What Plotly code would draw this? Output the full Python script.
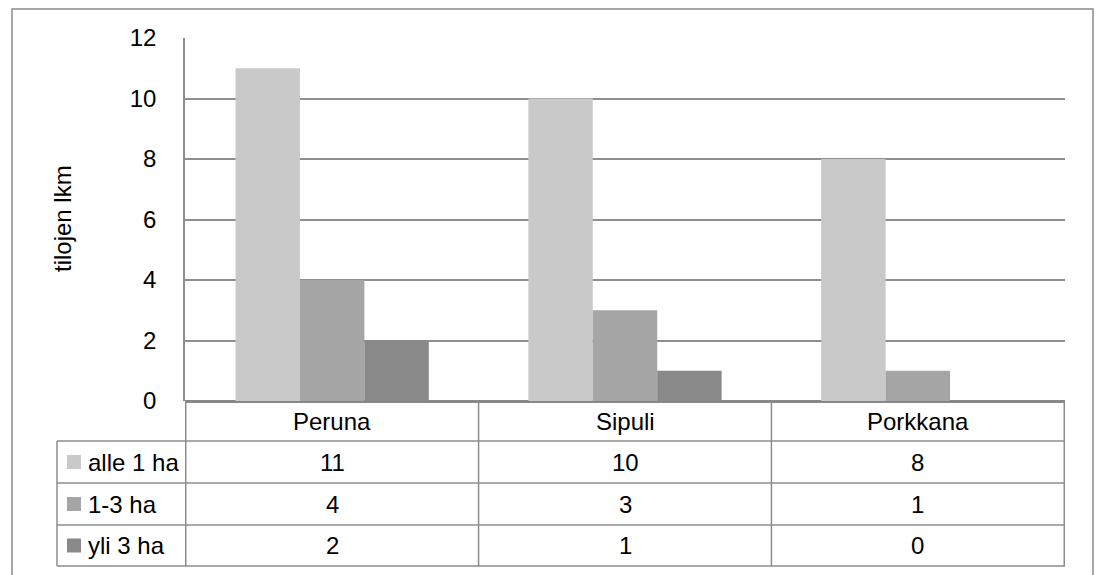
import plotly.graph_objects as go

# Data
categories = ["Peruna", "Sipuli", "Porkkana"]
series_names = ["alle 1 ha", "1-3 ha", "yli 3 ha"]
alle_1_ha = [11, 10, 8]
ha_1_3 = [4, 3, 1]
yli_3_ha = [2, 1, 0]
series_values = [alle_1_ha, ha_1_3, yli_3_ha]
y_ticks = [0, 2, 4, 6, 8, 10, 12]

colors = ["#C9C9C9", "#A5A5A5", "#898989"]

W, H = 1096, 575
FONT = "Arial, Liberation Sans, sans-serif"
FS = 24
LINE = "#8C8C8C"


def px(x):
    return x / W


def py(y):
    return 1 - y / H


# plot area in pixels
L, R, T, B = 185, 1065, 38, 401

fig = go.Figure()
for name, vals, c in zip(series_names, series_values, colors):
    fig.add_trace(go.Bar(x=categories, y=vals, name=name,
                         marker=dict(color=c, line=dict(width=0))))

shapes = []
annotations = []

# outer chart border
shapes.append(dict(type="rect", xref="paper", yref="paper",
                   x0=px(12), x1=px(1093), y0=py(590), y1=py(9),
                   line=dict(color="#8A8A8A", width=1.5), layer="below"))

# data table below the plot
header_bottom = 441
row_edges = [441, 483, 525, 566]
table_left = 57

# horizontal rules of the table
for y in row_edges:
    shapes.append(dict(type="line", xref="paper", yref="paper",
                       x0=px(table_left), x1=px(R), y0=py(y), y1=py(y),
                       line=dict(color=LINE, width=1.5)))
# left edge of series rows
shapes.append(dict(type="line", xref="paper", yref="paper",
                   x0=px(table_left), x1=px(table_left),
                   y0=py(row_edges[0]), y1=py(row_edges[-1]),
                   line=dict(color=LINE, width=1.5)))
# column separators aligned with category bands
for i in range(len(categories) + 1):
    shapes.append(dict(type="line", xref="x", yref="paper",
                       x0=i - 0.5, x1=i - 0.5, y0=py(B), y1=py(row_edges[-1]),
                       line=dict(color=LINE, width=1.5)))

# category header cells
for cat in categories:
    annotations.append(dict(x=cat, xref="x", y=py((B + header_bottom) / 2), yref="paper",
                            text=cat, showarrow=False, xanchor="center", yanchor="middle",
                            font=dict(family=FONT, size=FS, color="#000000")))

# series rows: legend key, label and values
for r, (name, vals, c) in enumerate(zip(series_names, series_values, colors)):
    top, bot = row_edges[r], row_edges[r + 1]
    mid = (top + bot) / 2
    shapes.append(dict(type="rect", xref="paper", yref="paper",
                       x0=px(67), x1=px(81), y0=py(mid + 7), y1=py(mid - 7),
                       fillcolor=c, line=dict(width=0)))
    annotations.append(dict(x=px(86), xref="paper", y=py(mid), yref="paper",
                            text=name, showarrow=False, xanchor="left", yanchor="middle",
                            font=dict(family=FONT, size=FS, color="#000000")))
    for cat, v in zip(categories, vals):
        annotations.append(dict(x=cat, xref="x", y=py(mid), yref="paper",
                                text=str(v), showarrow=False, xanchor="center",
                                yanchor="middle",
                                font=dict(family=FONT, size=FS, color="#000000")))

# y-axis title
annotations.append(dict(x=px(63), xref="paper", y=py(219), yref="paper",
                        text="tilojen lkm", textangle=-90, showarrow=False,
                        xanchor="center", yanchor="middle",
                        font=dict(family=FONT, size=FS, color="#000000")))

fig.update_layout(
    template="none",
    width=W, height=H,
    margin=dict(l=0, r=0, t=0, b=0),
    paper_bgcolor="white", plot_bgcolor="white",
    barmode="group", bargap=0.34, bargroupgap=0,
    showlegend=False,
    font=dict(family=FONT, size=FS, color="#000000"),
    xaxis=dict(domain=[px(L), px(R)], showticklabels=False, ticks="",
               showgrid=False, zeroline=False, showline=False, automargin=False,
               fixedrange=True),
    yaxis=dict(domain=[py(B), py(T)], range=[0, 12], tickvals=y_ticks,
               ticktext=[str(v) for v in y_ticks], ticks="", ticklabelstandoff=22,
               showgrid=True, gridcolor="#8E8E8E", gridwidth=1.5,
               zeroline=True, zerolinecolor="#888888", zerolinewidth=2.5,
               showline=True, linecolor="#8E8E8E", linewidth=1.5,
               automargin=False, fixedrange=True,
               tickfont=dict(family=FONT, size=FS, color="#000000")),
    shapes=shapes,
    annotations=annotations,
)

fig.write_html("out.html")
